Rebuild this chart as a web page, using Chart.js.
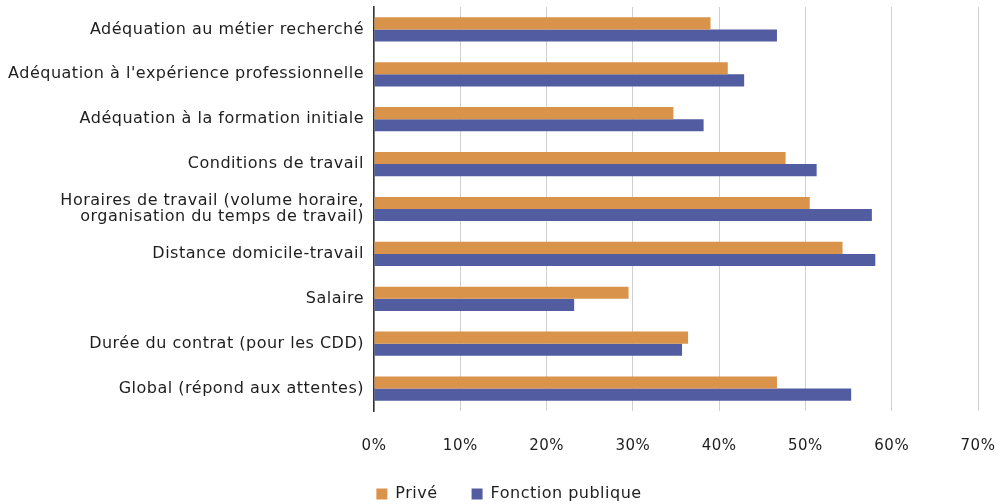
<!DOCTYPE html>
<html lang="fr">
<head>
<meta charset="utf-8">
<title>Attentes vis-à-vis de l'emploi</title>
<script src="https://cdn.jsdelivr.net/npm/chart.js@4/dist/chart.umd.min.js"></script>
<style>
  html, body { margin: 0; padding: 0; background: #fff; }
  #wrap { width: 1008px; height: 504px; position: relative; }
</style>
</head>
<body>
<div id="wrap"><canvas id="attentesChart"></canvas></div>
<script>
// Categories (top to bottom)
const categories = [
  "Adéquation au métier recherché",
  "Adéquation à l'expérience professionnelle",
  "Adéquation à la formation initiale",
  "Conditions de travail",
  ["Horaires de travail (volume horaire,", "organisation du temps de travail)"],
  "Distance domicile-travail",
  "Salaire",
  "Durée du contrat (pour les CDD)",
  "Global (répond aux attentes)"
];

// Part des répondants (%)
const prive = [39.0, 41.0, 34.7, 47.7, 50.5, 54.3, 29.5, 36.4, 46.7];
const fonctionPublique = [46.7, 42.9, 38.2, 51.3, 57.7, 58.1, 23.2, 35.7, 55.3];

const xTicks = [0, 10, 20, 30, 40, 50, 60, 70];

const FONT = "'DejaVu Sans', sans-serif";
Chart.defaults.font.family = FONT;
Chart.defaults.color = "#1e1e1e";

// slightly wider lettering for every label on the canvas
const spacingPlugin = {
  id: "letterSpacing",
  beforeUpdate(chart) { chart.ctx.letterSpacing = "0.5px"; },
  beforeDraw(chart) { chart.ctx.letterSpacing = "0.5px"; }
};

// nudge the legend row a little to the right
const legendShift = {
  id: "legendShift",
  afterLayout(chart) {
    const lg = chart.legend;
    if (lg) { lg.left += 20; lg.right += 20; }
  }
};

const ctx = document.getElementById("attentesChart").getContext("2d");
new Chart(ctx, {
  type: "bar",
  data: {
    labels: categories,
    datasets: [
      {
        label: "Privé",
        data: prive,
        backgroundColor: "#d9934a",
        categoryPercentage: 0.54,
        barPercentage: 1
      },
      {
        label: "Fonction publique",
        data: fonctionPublique,
        backgroundColor: "#525ca0",
        categoryPercentage: 0.54,
        barPercentage: 1
      }
    ]
  },
  plugins: [spacingPlugin, legendShift],
  options: {
    indexAxis: "y",
    responsive: true,
    maintainAspectRatio: false,
    animation: false,
    layout: { padding: { top: 7, right: 30, left: 0, bottom: -8 } },
    scales: {
      x: {
        min: 0,
        max: 70,
        afterBuildTicks: (scale) => {
          scale.ticks = xTicks.map(v => ({ value: v }));
        },
        afterFit: (scale) => {
          scale.height = 41;
          scale.paddingLeft = 0;
          scale.paddingRight = 0;
        },
        ticks: {
          callback: (v) => v + "%",
          font: { size: 15 },
          color: "#1e1e1e",
          padding: 26,
          maxRotation: 0
        },
        grid: { color: "#d0d0d0", lineWidth: 1, drawTicks: false },
        border: { display: false }
      },
      y: {
        afterFit: (scale) => {
          scale.width = 374;
          scale.paddingTop = 0;
          scale.paddingBottom = 0;
        },
        ticks: {
          font: { size: 16, lineHeight: 1.0 },
          color: "#1e1e1e",
          padding: 10
        },
        grid: { display: false, drawTicks: false },
        border: { display: true, color: "#333", width: 1.5 }
      }
    },
    plugins: {
      legend: {
        position: "bottom",
        labels: {
          boxWidth: 11,
          boxHeight: 11,
          padding: 34,
          font: { size: 16 },
          color: "#1e1e1e"
        }
      },
      tooltip: { enabled: false },
      title: { display: false }
    }
  }
});
</script>
</body>
</html>
